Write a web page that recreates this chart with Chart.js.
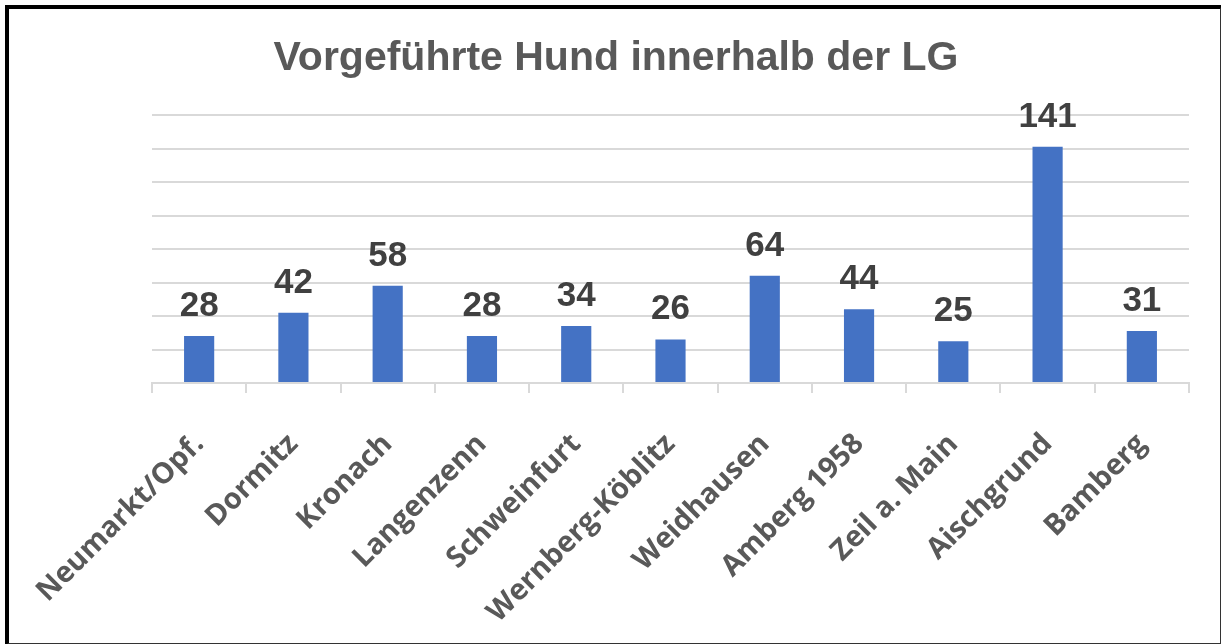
<!DOCTYPE html>
<html>
<head>
<meta charset="utf-8">
<script src="https://cdn.jsdelivr.net/npm/chart.js@4"></script>
<style>
  html, body { margin: 0; padding: 0; background: #fff; }
  #wrap { position: relative; width: 1221px; height: 644px; }
  #frame {
    position: absolute; left: 5px; top: 5px; width: 1211px; height: 634px;
    border-top: 4px solid #000; border-left: 4px solid #000;
    border-right: 2px solid #333; border-bottom: 2px solid #333;
    pointer-events: none;
  }
  canvas { position: absolute; left: 0; top: 0; }
</style>
</head>
<body>
<div id="wrap">
  <canvas id="myChart" width="1221" height="644"></canvas>
  <div id="frame"></div>
</div>
<script>
// Daten
const vereine = [
  "Neumarkt/Opf.", "Dormitz", "Kronach", "Langenzenn", "Schweinfurt",
  "Wernberg-Köblitz", "Weidhausen", "Amberg 1958", "Zeil a. Main",
  "Aischgrund", "Bamberg"
];
const hunde = [28, 42, 58, 28, 34, 26, 64, 44, 25, 141, 31];
const titel = "Vorgeführte Hund innerhalb der LG";

// Titel und Werte über den Balken selbst zeichnen
const extraText = {
  id: "extraText",
  afterDatasetsDraw(chart) {
    const ctx = chart.ctx;
    const meta = chart.getDatasetMeta(0);
    ctx.save();
    ctx.textAlign = "center";
    ctx.textBaseline = "alphabetic";

    ctx.font = "bold 41px 'Liberation Sans', Arial, sans-serif";
    ctx.fillStyle = "#595959";
    ctx.fillText(titel, 616, 70);

    ctx.font = "bold 35px 'Liberation Sans', Arial, sans-serif";
    ctx.fillStyle = "#404040";
    meta.data.forEach((bar, i) => {
      ctx.fillText(hunde[i], bar.x, bar.y - 20);
    });
    ctx.restore();
  },
};

const ctx = document.getElementById("myChart");
new Chart(ctx, {
  type: "bar",
  data: {
    labels: vereine,
    datasets: [
      {
        label: "Hunde",
        data: hunde,
        backgroundColor: "#4472C4",
        borderWidth: 0,
        categoryPercentage: 1,
        barPercentage: 0.32,
      },
    ],
  },
  options: {
    responsive: false,
    animation: false,
    layout: { padding: { left: 152, right: 32, top: 115, bottom: 0 } },
    plugins: {
      legend: { display: false },
      tooltip: { enabled: false },
      title: { display: false },
    },
    scales: {
      x: {
        afterFit: (scale) => { scale.height = 261; },
        grid: {
          drawOnChartArea: false,
          drawTicks: true,
          tickLength: 10,
          color: "#d9d9d9",
          lineWidth: 2,
        },
        border: { color: "#d9d9d9", width: 2 },
        ticks: {
          minRotation: 45,
          maxRotation: 45,
          autoSkip: false,
          color: "#595959",
          padding: 34,
          font: { family: "'Open Sans', sans-serif", size: 29, weight: "bold" },
        },
      },
      y: {
        min: 0,
        max: 160,
        ticks: { display: false, stepSize: 20 },
        grid: { color: "#d9d9d9", lineWidth: 2, drawTicks: false },
        border: { display: false },
      },
    },
  },
  plugins: [extraText],
});
</script>
</body>
</html>
